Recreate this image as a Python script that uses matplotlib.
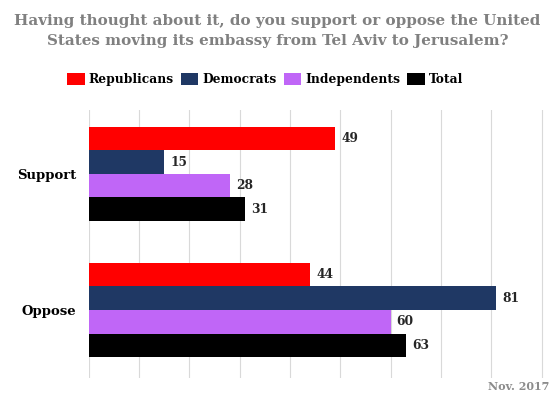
import numpy as np
import matplotlib.pyplot as plt

categories = ['Support', 'Oppose']
series = ['Republicans', 'Democrats', 'Independents', 'Total']
republicans = [49, 44]
democrats = [15, 81]
independents = [28, 60]
total = [31, 63]
colors = ['#ff0000', '#1f3864', '#c066f7', '#000000']

values = [republicans, democrats, independents, total]

plt.rcParams['font.family'] = ['DejaVu Serif']
plt.rcParams['font.weight'] = 'bold'

fig = plt.figure(figsize=(5.55, 3.98), dpi=100)
ax = fig.add_axes([0.160, 0.050, 0.834, 0.674])

y = np.arange(len(categories))
h = 0.173
for i, (name, vals, c) in enumerate(zip(series, values, colors)):
    pos = y + (i - 1.5) * h
    ax.barh(pos, vals, height=h, color=c, label=name, zorder=3)
    for p, v in zip(pos, vals):
        ax.text(v + 1.2, p, str(v), va='center', ha='left', fontsize=8.8,
                fontweight='bold', color='#262626')

ax.set_xlim(0, 92)
ax.set_ylim(1.5, -0.47)
ax.set_xticks(np.arange(0, 91, 10))
ax.set_xticklabels([])
ax.set_yticks(y)
ax.set_yticklabels(categories, fontsize=9.5, fontweight='bold')
ax.tick_params(length=0, pad=9)
ax.grid(axis='x', color='#d9d9d9', linewidth=0.8, zorder=0)
for s in ax.spines.values():
    s.set_visible(False)

fig.text(0.5, 0.922, 'Having thought about it, do you support or oppose the United\n'
         'States moving its embassy from Tel Aviv to Jerusalem?',
         ha='center', va='center', fontsize=10.9, fontweight='bold',
         color='#808080', linespacing=1.5)

handles, labels = ax.get_legend_handles_labels()
fig.legend(handles, labels, loc='center', bbox_to_anchor=(0.478, 0.80), ncol=4,
           frameon=False, fontsize=8.8, handlelength=1.45, handleheight=1.2,
           handletextpad=0.35, columnspacing=0.55)

fig.text(0.99, 0.03, 'Nov. 2017', ha='right', va='center', fontsize=8,
         color='#8c8c8c', fontweight='bold')

fig.savefig('out.png', dpi=100)
